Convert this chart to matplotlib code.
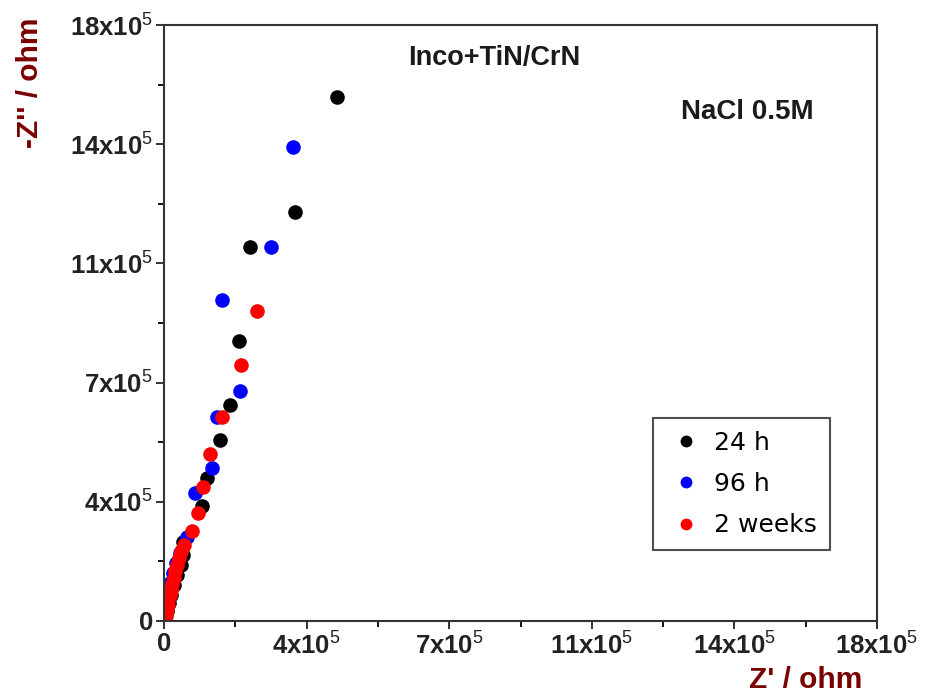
import matplotlib
matplotlib.use("Agg")
import matplotlib.pyplot as plt
from matplotlib.lines import Line2D

plt.rcParams['font.family'] = ['Liberation Sans', 'DejaVu Sans']
plt.rcParams['mathtext.fontset'] = 'custom'
plt.rcParams['mathtext.rm'] = 'Liberation Sans'
plt.rcParams['mathtext.it'] = 'Liberation Sans:italic'
plt.rcParams['mathtext.bf'] = 'Liberation Sans:bold'

# Values in units of 1e5 ohm
z_re_24h = [0.03, 0.08, 0.12, 0.18, 0.24, 0.32, 0.42, 0.48, 0.48, 0.96, 1.09, 1.41, 1.67, 1.89, 2.17, 3.31, 4.37]
z_im_24h = [0.10, 0.30, 0.55, 0.80, 1.10, 1.40, 1.70, 2.00, 2.39, 3.47, 4.32, 5.47, 6.52, 8.46, 11.30, 12.35, 15.83]

z_re_96h = [0.01, 0.02, 0.03, 0.05, 0.08, 0.14, 0.22, 0.30, 0.40, 0.58, 0.78, 1.21, 1.34, 1.92, 1.46, 2.70, 3.26]
z_im_96h = [0.10, 0.25, 0.45, 0.70, 0.90, 1.15, 1.45, 1.75, 2.05, 2.54, 3.87, 4.62, 6.16, 6.95, 9.70, 11.30, 14.32]

z_re_2w = [0.02, 0.03, 0.04, 0.05, 0.07, 0.09, 0.11, 0.14, 0.17, 0.20, 0.24, 0.28, 0.33, 0.38, 0.43, 0.50,
           0.71, 0.86, 0.98, 1.16, 1.46, 1.94, 2.35]
z_im_2w = [0.02, 0.08, 0.15, 0.25, 0.35, 0.48, 0.62, 0.78, 0.95, 1.12, 1.30, 1.50, 1.70, 1.90, 2.10, 2.30,
           2.72, 3.26, 4.05, 5.04, 6.16, 7.73, 9.36]

series_labels = ['24 h', '96 h', '2 weeks']
series_colors = ['#000000', '#0000ff', '#ff0000']

tick_vals = [0, 3.6, 7.2, 10.8, 14.4, 18.0]
tick_labels = ['0', r'4x10$^{5}$', r'7x10$^{5}$', r'11x10$^{5}$', r'14x10$^{5}$', r'18x10$^{5}$']
minor_vals = [1.8, 5.4, 9.0, 12.6, 16.2]

fig = plt.figure(figsize=(9.39, 6.96), dpi=100)
ax = fig.add_axes([164/939, 1-621/696, (877-164)/939, (621-25)/696])

data = [(z_re_24h, z_im_24h), (z_re_96h, z_im_96h), (z_re_2w, z_im_2w)]
for (x, y), c in zip(data, series_colors):
    ax.plot(x, y, linestyle='none', marker='o', markersize=10.5, color=c, markeredgewidth=0)

ax.set_xlim(0, 18)
ax.set_ylim(0, 18)
ax.set_xticks(tick_vals)
ax.set_xticklabels(tick_labels)
ax.set_yticks(tick_vals)
ax.set_yticklabels(tick_labels)
ax.set_xticks(minor_vals, minor=True)
ax.set_yticks(minor_vals, minor=True)
ax.tick_params(which='major', direction='out', length=6, width=1.3, labelsize=18.5, pad=2,
               colors='#222222')
for lbl in ax.get_xticklabels() + ax.get_yticklabels():
    lbl.set_fontweight('bold')
ax.tick_params(which='minor', direction='out', length=4, width=1.3)
for s in ax.spines.values():
    s.set_linewidth(1.5)
    s.set_color('#333333')

label_color = '#7a0000'
fig.text(862/939, 1-680/696, "Z' / ohm", color=label_color, fontsize=21.5, fontweight='bold',
         ha='right', va='center')
fig.text(30/939, 1-18/696, "-Z'' / ohm", color=label_color, fontsize=21.5, fontweight='bold',
         ha='center', va='top', rotation=90)

fig.text(494/939, 1-58/696, 'Inco+TiN/CrN', fontsize=19.5, fontweight='bold', ha='center',
         va='center', color='#1a1a1a')
fig.text(747/939, 1-112/696, 'NaCl 0.5M', fontsize=20, fontweight='bold', ha='center',
         va='center', color='#1a1a1a')

handles = [Line2D([], [], linestyle='none', marker='o', markersize=8.5, color=c, markeredgewidth=0)
           for c in series_colors]
leg = ax.legend(handles, series_labels, loc='upper left',
                bbox_to_anchor=((653-164)/713, (621-418)/596),
                prop={'family': 'DejaVu Sans', 'size': 18},
                frameon=True, fancybox=False, edgecolor='#222222',
                handlelength=1.6, handletextpad=0.35, labelspacing=0.7,
                borderpad=0.5, borderaxespad=0)
leg.get_frame().set_linewidth(1.5)

fig.savefig('out.png', dpi=100)
